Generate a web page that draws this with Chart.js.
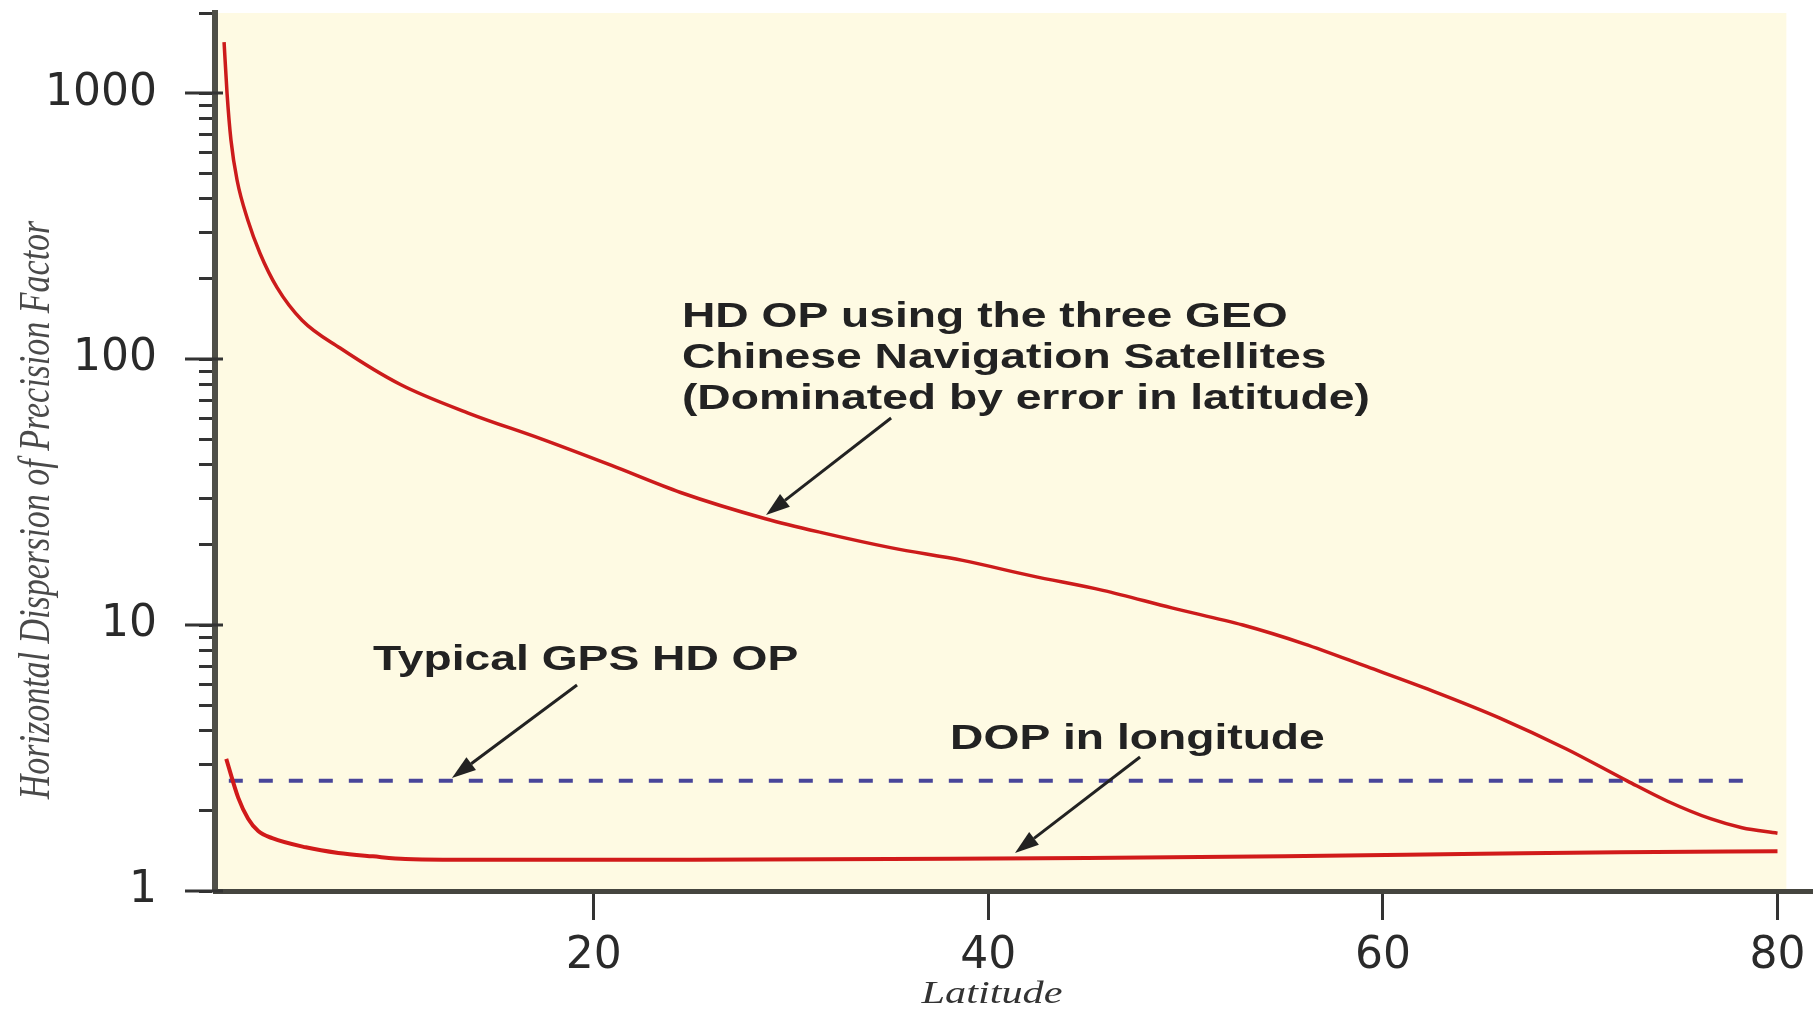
<!DOCTYPE html>
<html>
<head>
<meta charset="utf-8">
<title>Horizontal DOP vs latitude</title>
<script src="https://cdn.jsdelivr.net/npm/chart.js@4.4.1/dist/chart.umd.min.js"></script>
<style>
  html, body { margin: 0; padding: 0; background: #fff; }
  #wrap { width: 1813px; height: 1012px; }
</style>
</head>
<body>
<div id="wrap"><canvas id="dop-chart"></canvas></div>
<script>
// HDOP using the three GEO satellites
var geoLat  = [1.26, 1.41, 1.61, 1.92, 2.47, 3.08, 3.94, 5.21, 7.14, 10.2, 13.7, 17.3, 20.9, 24.4, 28.7, 31.5, 35.1, 38.7, 42.2, 45.8, 49.3, 52.9, 56.0, 59.2, 62.5, 65.9, 69.3, 72.4, 74.4, 76.6, 78.2, 80.0];
var geoHdop = [1555, 1000, 665, 470, 332, 250, 186, 140, 110, 80.2, 62.4, 50.2, 39.8, 31.5, 25.1, 22.3, 19.5, 17.5, 15.3, 13.5, 11.6, 10.0, 8.5, 6.97, 5.66, 4.48, 3.42, 2.59, 2.18, 1.87, 1.73, 1.65];

// DOP in longitude
var lonLat = [1.37, 1.98, 2.48, 2.99, 3.7, 5.4, 7.05, 8.8, 10.45, 15, 25, 35, 45, 55, 65, 72, 80];
var lonDop = [3.14, 2.24, 1.87, 1.68, 1.58, 1.46, 1.39, 1.35, 1.32, 1.31, 1.31, 1.32, 1.33, 1.35, 1.38, 1.40, 1.41];

// typical GPS HDOP (flat)
var gpsLat  = [1.5, 79.0];
var gpsHdop = [2.6, 2.6];

// axis ticks
var xTickValues = [20, 40, 60, 80];
var yDecades = [1, 10, 100, 1000];
var xMin = 0.8, xMax = 81.8, yMin = 1, yMax = 2000;
var plotBgEnd = 80.45;

function pairs(xs, ys) {
    return xs.map(function (x, i) { return { x: x, y: ys[i] }; });
}

// annotation texts + arrows, anchored in data coordinates
var notes = [
    { lines: ['HD OP using the three GEO', 'Chinese Navigation Satellites', '(Dominated by error in latitude)'],
      lat: 24.47, val: 132, arrow: { from: [35.07, 60.0], to: [28.73, 25.9] } },
    { lines: ['Typical GPS HD OP'], lat: 8.81, val: 6.77, arrow: { from: [19.15, 5.95], to: [12.81, 2.66] } },
    { lines: ['DOP in longitude'], lat: 38.06, val: 3.42, arrow: { from: [47.69, 3.19], to: [41.35, 1.39] } }
];

var textStretch = 1.32;

function stretchedText(ctx, text, px, py, font, color, align, rotate) {
    ctx.save();
    ctx.translate(px, py);
    ctx.scale(textStretch, 1);
    if (rotate) ctx.rotate(rotate);
    ctx.font = font;
    ctx.fillStyle = color;
    ctx.textAlign = align;
    ctx.textBaseline = 'alphabetic';
    ctx.fillText(text, 0, 0);
    ctx.restore();
}

function drawArrow(ctx, x1, y1, x2, y2) {
    var ang = Math.atan2(y2 - y1, x2 - x1), head = 24, half = 8;
    var bx = x2 - head * Math.cos(ang), by = y2 - head * Math.sin(ang);
    ctx.beginPath();
    ctx.moveTo(x1, y1);
    ctx.lineTo(bx, by);
    ctx.stroke();
    ctx.beginPath();
    ctx.moveTo(x2, y2);
    ctx.lineTo(bx + half * Math.sin(ang), by - half * Math.cos(ang));
    ctx.lineTo(bx - half * Math.sin(ang), by + half * Math.cos(ang));
    ctx.closePath();
    ctx.fill();
}

var decorPlugin = {
    id: 'decor',
    beforeDraw: function (chart) {
        var ctx = chart.ctx, a = chart.chartArea, x = chart.scales.x;
        ctx.save();
        ctx.fillStyle = '#fefae3';
        ctx.fillRect(a.left, a.top, x.getPixelForValue(plotBgEnd) - a.left, a.bottom - a.top);
        ctx.restore();
    },
    afterDraw: function (chart) {
        var ctx = chart.ctx, x = chart.scales.x, y = chart.scales.y;
        ctx.save();
        // longer decade ticks crossing the axis
        ctx.strokeStyle = '#333';
        ctx.lineWidth = 3;
        yDecades.forEach(function (v) {
            var py = y.getPixelForValue(v);
            ctx.beginPath();
            ctx.moveTo(y.right - 30, py);
            ctx.lineTo(y.right + 8, py);
            ctx.stroke();
        });

        // annotations
        ctx.strokeStyle = '#222';
        ctx.fillStyle = '#222';
        ctx.lineWidth = 3;
        notes.forEach(function (n) {
            var px = x.getPixelForValue(n.lat), py = y.getPixelForValue(n.val);
            n.lines.forEach(function (t, i) {
                stretchedText(ctx, t, px, py + i * 41, 'bold 35px "Liberation Sans", Arial, sans-serif', '#222', 'left');
            });
            drawArrow(ctx,
                x.getPixelForValue(n.arrow.from[0]), y.getPixelForValue(n.arrow.from[1]),
                x.getPixelForValue(n.arrow.to[0]), y.getPixelForValue(n.arrow.to[1]));
        });

        // axis titles
        stretchedText(ctx, 'Horizontal Dispersion of Precision Factor', 49, 510,
            'italic 34px "Liberation Serif", "Times New Roman", serif', '#4a4a4a', 'center', -Math.PI / 2);
        stretchedText(ctx, 'Latitude', 992, 1003,
            'italic 32px "Liberation Serif", "Times New Roman", serif', '#333', 'center');
        ctx.restore();
    }
};

var ctxDop = document.getElementById('dop-chart').getContext('2d');

var dopChart = new Chart(ctxDop, {
    type: 'line',
    data: {
        datasets: [
            {
                label: 'HDOP using the three GEO satellites',
                data: pairs(geoLat, geoHdop),
                borderColor: '#cc1b1b',
                borderWidth: 3.5,
                pointRadius: 0,
                cubicInterpolationMode: 'monotone',
                fill: false
            },
            {
                label: 'DOP in longitude',
                data: pairs(lonLat, lonDop),
                borderColor: '#d11a1a',
                borderWidth: 4,
                pointRadius: 0,
                cubicInterpolationMode: 'monotone',
                fill: false
            },
            {
                label: 'Typical GPS HDOP',
                data: pairs(gpsLat, gpsHdop),
                borderColor: '#48459a',
                borderWidth: 4,
                borderDash: [14, 16],
                pointRadius: 0,
                fill: false
            }
        ]
    },
    options: {
        responsive: true,
        maintainAspectRatio: false,
        animation: false,
        layout: { padding: { top: 13, left: 0, right: 0, bottom: 0 } },
        plugins: {
            legend: { display: false },
            tooltip: { enabled: false }
        },
        scales: {
            x: {
                type: 'linear',
                position: 'bottom',
                min: xMin,
                max: xMax,
                afterFit: function (s) {
                    s.height = 121;
                    s.paddingLeft = 0;
                    s.paddingRight = 0;
                },
                afterBuildTicks: function (s) {
                    s.ticks = xTickValues.map(function (v) { return { value: v }; });
                },
                grid: { drawOnChartArea: false, drawTicks: true, tickLength: 29, tickWidth: 3, tickColor: '#333' },
                border: { display: true, width: 5, color: '#45453f' },
                ticks: {
                    autoSkip: false,
                    maxRotation: 0,
                    padding: 10,
                    color: '#2a2a2a',
                    font: { family: 'DejaVu Sans', size: 44 }
                }
            },
            y: {
                type: 'logarithmic',
                position: 'left',
                min: yMin,
                max: yMax,
                afterFit: function (s) {
                    s.width = 215;
                    s.paddingTop = 0;
                    s.paddingBottom = 0;
                },
                afterBuildTicks: function (s) {
                    var t = [];
                    yDecades.forEach(function (d) {
                        for (var k = 1; k <= 9; k++) {
                            if (d * k <= yMax) t.push({ value: d * k });
                        }
                    });
                    s.ticks = t;
                },
                grid: { drawOnChartArea: false, drawTicks: true, tickLength: 16, tickWidth: 3, tickColor: '#333' },
                border: { display: true, width: 6, color: '#4f4f48' },
                ticks: {
                    autoSkip: false,
                    padding: 42,
                    color: '#2a2a2a',
                    font: { family: 'DejaVu Sans', size: 44 },
                    callback: function (v) { return yDecades.indexOf(v) >= 0 ? String(v) : ''; }
                }
            }
        }
    },
    plugins: [decorPlugin]
});
</script>
</body>
</html>
